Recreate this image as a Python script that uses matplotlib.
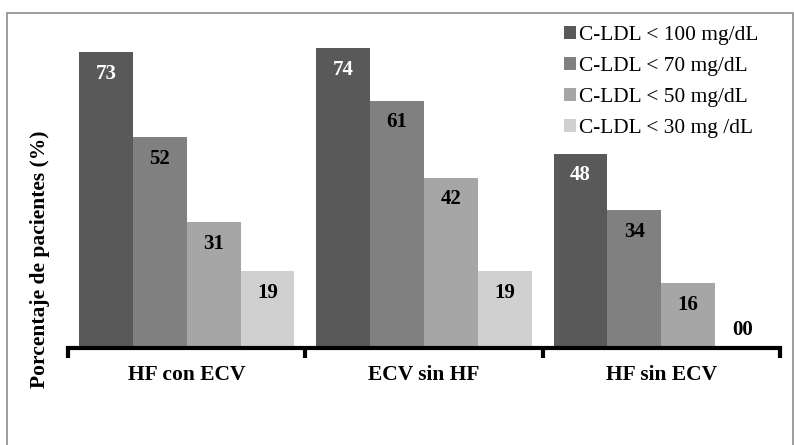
import numpy as np
import matplotlib.pyplot as plt
from matplotlib.patches import Rectangle

plt.rcParams['font.family'] = ['Liberation Serif', 'DejaVu Serif']

groups = ["HF con ECV", "ECV sin HF", "HF sin ECV"]
series = ["C-LDL < 100 mg/dL", "C-LDL < 70 mg/dL", "C-LDL < 50 mg/dL", "C-LDL < 30 mg /dL"]
values = [
    [73, 74, 48],
    [52, 61, 34],
    [31, 42, 16],
    [19, 19, 0],
]
labels = [
    ["73", "74", "48"],
    ["52", "61", "34"],
    ["31", "42", "16"],
    ["19", "19", "00"],
]
colors = ["#595959", "#808080", "#a6a6a6", "#d0d0d0"]
text_colors = ["white", "black", "black", "black"]

W, H = 794, 445
fig = plt.figure(figsize=(W / 100, H / 100), dpi=100)

# outer frame
fig.patches.append(Rectangle((7 / W, -0.01), 786 / W, (H - 13) / H + 0.01, transform=fig.transFigure,
                             fill=False, edgecolor="#8c8c8c", linewidth=1.2))

ax = fig.add_axes([68 / W, (H - 348) / H, (780 - 68) / W, (348 - 30) / H])

x = np.arange(len(groups))
bw = 0.227
for i, (vals, c) in enumerate(zip(values, colors)):
    pos = x - 1.5 * bw + i * bw
    ax.bar(pos, vals, width=bw, color=c, label=series[i], zorder=2)
    for p, v, t in zip(pos, vals, labels[i]):
        y = v - 5.3 if v > 10 else v + 4.4
        ax.text(p, y, t, ha="center", va="center", fontsize=15, fontweight="bold",
                color=text_colors[i], zorder=3)

ax.set_xlim(-0.5, len(groups) - 0.5)
ax.set_ylim(0, (348 - 30) / 4.05)
for s in ["top", "right", "left"]:
    ax.spines[s].set_visible(False)
ax.spines["bottom"].set_linewidth(3)
ax.set_yticks([])
ax.set_xticks(np.arange(len(groups) + 1) - 0.5)
ax.set_xticklabels([])
ax.tick_params(axis="x", direction="out", length=7, width=3, color="black")
for xi, g in zip(x, groups):
    ax.text(xi, -0.085, g, transform=ax.get_xaxis_transform(), ha="center", va="center",
            fontsize=15.5, fontweight="bold")

fig.text(40 / W, 1 - 259 / H, "Porcentaje de pacientes (%)", rotation=90, ha="center",
         va="center", fontsize=15.5, fontweight="bold")

leg = ax.legend(loc="upper left", bbox_to_anchor=(564 / W, 1 - 26 / H),
                bbox_transform=fig.transFigure, frameon=False, fontsize=15.4,
                borderpad=0, borderaxespad=0,
                handlelength=0.56, handleheight=0.56, handletextpad=0.12, labelspacing=0.56)

fig.savefig("out.png", dpi=100)
